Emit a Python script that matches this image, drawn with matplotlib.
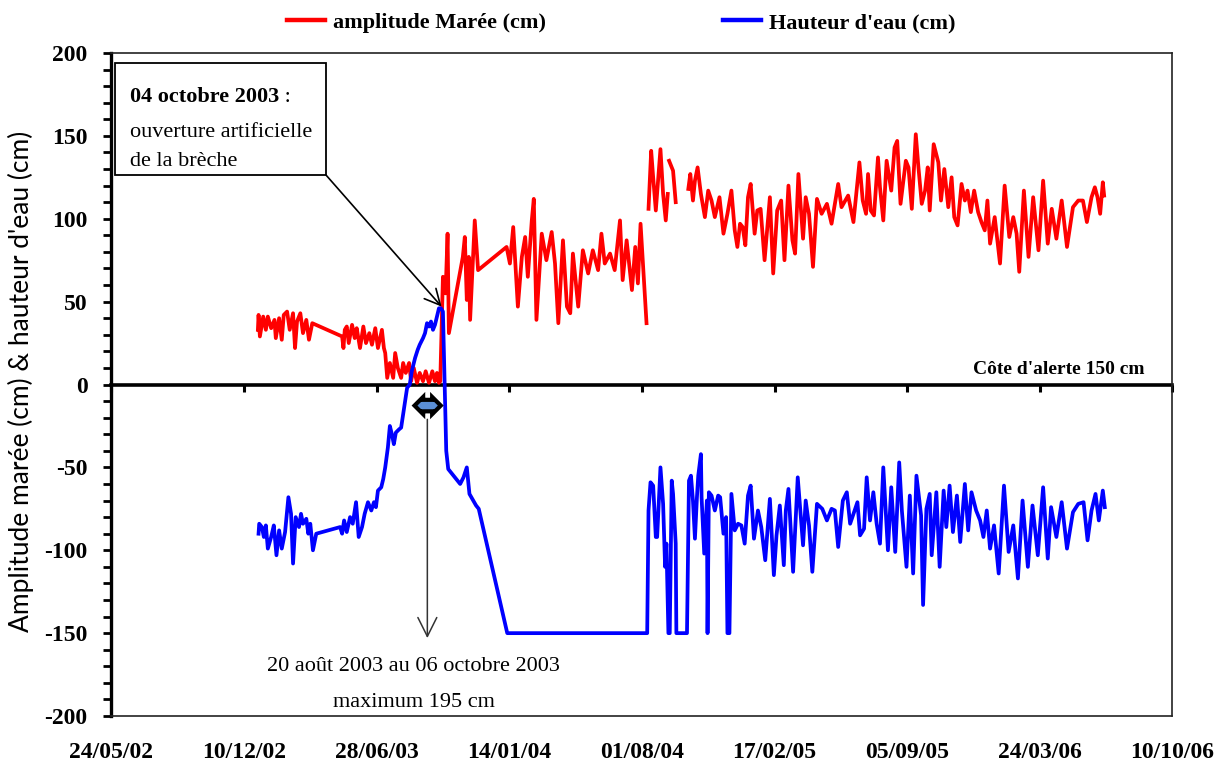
import matplotlib
matplotlib.use('Agg')
import matplotlib.pyplot as plt
import matplotlib.transforms as mtransforms
from matplotlib.patches import Rectangle
from matplotlib.ticker import MultipleLocator
from matplotlib.font_manager import FontProperties
import numpy as np
import pandas as pd

plt.rcParams['font.family'] = ['Liberation Serif', 'DejaVu Serif']

START = pd.Timestamp('2002-05-24')
nan = np.nan

x_tick_labels = ['24/05/02', '10/12/02', '28/06/03', '14/01/04', '01/08/04',
                 '17/02/05', '05/09/05', '24/03/06', '10/10/06']
y_ticks = [-200, -150, -100, -50, 0, 50, 100, 150, 200]

# days since 24/05/2002 (nan value = break in the record)
maree_days = [221, 222, 224, 229, 233, 236, 241, 246, 248, 253, 257, 260, 265, 269, 274, 277, 280, 285, 289, 294, 298, 303,
              348, 350, 352, 355, 358, 363, 367, 370, 375, 380, 384, 389, 393, 398, 402, 408, 411, 413, 416, 420,
              425, 428, 432, 437, 440, 444, 449, 452, 456, 461, 465, 470, 474, 479, 484, 488, 491, 494, 496,
              500, 504, 507, 509, 530, 533, 536, 539, 541, 548, 553, 596, 601, 606, 613, 619, 624, 628, 634, 637,
              641, 649, 656, 664, 669, 674, 681, 687, 692, 696, 704, 711, 719, 726, 734, 739, 744, 752, 759, 767,
              771, 777, 785, 790, 794, 798, 807, 808,
              810, 814, 817, 821, 828, 832, 836, 839, 840, 841, 847, 851, 860,
              870, 873, 877, 880, 884, 889, 895, 900, 905, 910, 917, 923, 929, 935, 940, 944, 948, 952, 956, 960,
              964, 970, 974, 979, 985, 993, 998, 1004, 1010, 1015, 1021, 1027, 1031, 1036, 1043, 1047, 1052, 1058, 1064, 1071,
              1079, 1086, 1096, 1101, 1111, 1119, 1128, 1133, 1138, 1141, 1145, 1150, 1156, 1159, 1164, 1169, 1176, 1181, 1185, 1190,
              1198, 1202, 1207, 1213, 1217, 1222, 1227, 1231, 1234, 1240, 1247, 1251, 1256, 1262, 1267, 1271, 1276, 1282, 1287, 1291,
              1296, 1301, 1307, 1312, 1317, 1321, 1325, 1332, 1340, 1347, 1354, 1360, 1365, 1369, 1376, 1383, 1390, 1398, 1405, 1412,
              1418, 1425, 1433, 1441, 1450, 1458, 1465, 1471, 1478, 1483, 1487, 1491, 1495, 1497]
maree_cm = [33, 42, 29, 41, 33, 41, 34, 39, 28, 40, 27, 42, 44, 33, 43, 22, 38, 43, 31, 39, 27, 37,
            29, 22, 33, 35, 25, 36, 28, 34, 22, 35, 25, 31, 24, 34, 22, 33, 22, 19, 4, 13,
            4, 19, 10, 4, 13, 7, 13, 2, 10, 1, 7, 2, 8, 1, 8, 2, 7, 1, 2,
            65, 55, 91, 31, 77, 89, 51, 77, 39, 99, 69, 83, 73, 95, 47, 77, 89, 65, 99, 112,
            39, 91, 75, 92, 73, 37, 87, 47, 43, 79, 47, 81, 67, 81, 69, 91, 73, 79, 69, 99,
            63, 87, 57, 83, 61, 97, 37, nan,
            106, 141, 125, 105, 142, 115, 99, 115, nan, 135, 129, 110, nan,
            118, 127, 111, 123, 131, 115, 101, 117, 111, 101, 113, 91, 103, 117, 93, 83, 97, 95, 84, 113,
            121, 91, 105, 106, 75, 113, 67, 105, 111, 75, 120, 87, 79, 127, 88, 113, 103, 71, 112, 103,
            109, 97, 121, 107, 114, 98, 134, 111, 103, 127, 105, 102, 137, 119, 99, 135, 117, 143, 147, 109,
            135, 131, 106, 151, 131, 109, 117, 131, 105, 145, 134, 111, 130, 107, 125, 101, 96, 121, 111, 117,
            104, 117, 104, 98, 93, 111, 85, 101, 73, 120, 89, 101, 91, 68, 117, 77, 113, 81, 123, 85,
            106, 88, 111, 83, 107, 111, 111, 98, 113, 119, 113, 103, 122, 114]

eau_days = [222, 223, 227, 230, 233, 236, 241, 245, 249, 253, 257, 262, 267, 271, 274, 278, 283, 286, 289, 294,
            297, 300, 304, 309, 345, 348, 351, 355, 360, 364, 369, 373, 378, 382, 387, 392, 396, 399, 402, 407,
            410, 413, 417, 420, 423, 426, 429, 434, 437, 440, 443, 446, 450, 453, 458, 462, 465, 470, 473, 476,
            479, 482, 485, 488, 491, 494, 497, 500, 505, 508, 526, 531, 536, 540, 550, 554, 597, 808,
            810, 813, 817, 821, 823, 828, 832, 835, 837, 840, 842, 845, 847, 851, 852, 868, 871, 874, 877, 880,
            883, 885, 889, 890, 894, 898, 899, 901, 905, 910, 915, 918, 923, 927, 929, 932, 935, 940, 945, 950,
            955, 960, 964, 969, 975, 980, 986, 993, 999, 1003, 1008, 1014, 1017, 1021, 1028, 1035, 1043, 1047, 1052, 1057,
            1064, 1072, 1079, 1086, 1091, 1096, 1103, 1109, 1114, 1119, 1125, 1129, 1135, 1139, 1144, 1149, 1154, 1159, 1164, 1171,
            1176, 1182, 1188, 1192, 1199, 1204, 1209, 1214, 1221, 1224, 1229, 1234, 1237, 1244, 1249, 1255, 1259, 1264, 1269, 1275,
            1280, 1287, 1292, 1297, 1304, 1310, 1315, 1320, 1325, 1331, 1338, 1346, 1353, 1360, 1367, 1374, 1382, 1389, 1397, 1405,
            1412, 1417, 1425, 1433, 1441, 1450, 1458, 1466, 1472, 1478, 1484, 1489, 1495, 1498]
eau_cm = [-90, -84, -86, -92, -85, -99, -92, -85, -103, -88, -99, -89, -68, -78, -108, -80, -86, -78, -84, -81,
          -90, -84, -100, -90, -86, -90, -82, -89, -80, -84, -71, -92, -86, -78, -71, -76, -71, -74, -64, -62,
          -57, -50, -38, -25, -30, -36, -29, -27, -26, -18, -10, -2, 0, 8, 16, 21, 24, 28, 31, 37,
          35, 38, 33, 36, 41, 46, 46, 44, -40, -51, -60, -56, -50, -66, -73, -75, -150, -150,
          -76, -59, -61, -92, -92, -50, -72, -110, -96, -150, -150, -58, -66, -96, -150, -150, -58, -55, -70, -93,
          -68, -55, -42, -68, -102, -70, -150, -65, -67, -76, -67, -68, -90, -80, -150, -150, -66, -88, -84, -85,
          -96, -67, -61, -93, -76, -86, -106, -69, -115, -91, -73, -109, -76, -63, -113, -56, -97, -70, -85, -113,
          -72, -75, -82, -75, -76, -98, -70, -65, -84, -78, -71, -91, -87, -56, -82, -65, -84, -96, -50, -100,
          -62, -101, -47, -76, -110, -67, -114, -55, -79, -133, -75, -66, -103, -65, -110, -64, -86, -61, -89, -67,
          -95, -60, -88, -65, -76, -82, -92, -76, -99, -85, -114, -61, -101, -85, -117, -70, -110, -73, -103, -62,
          -105, -74, -92, -71, -99, -77, -72, -71, -94, -76, -66, -82, -64, -74]


def to_dates(days):
    return START + pd.to_timedelta(days, unit='D')


tick_dates = pd.to_datetime(x_tick_labels, format='%d/%m/%y')
breche_open = pd.Timestamp('2003-10-04')
period_start = pd.Timestamp('2003-08-20')
period_end = pd.Timestamp('2003-10-06')
period_mid = period_start + (period_end - period_start) / 2

fig = plt.figure(figsize=(12.18, 7.64), dpi=100)
ax = fig.add_axes([0.0914, 0.0628, 0.8712, 0.8678])

l1, = ax.plot(to_dates(maree_days), maree_cm, color='#FF0000', lw=2.7, solid_joinstyle='round', zorder=3)
l2, = ax.plot(to_dates(eau_days), eau_cm, color='#0000FF', lw=2.7, solid_joinstyle='round', zorder=3)

ax.set_xlim(tick_dates[0], tick_dates[-1])
ax.set_ylim(-200, 200)

# axes style
for s in ['top', 'right', 'bottom']:
    ax.spines[s].set_linewidth(1.2)
    ax.spines[s].set_color('#222222')
ax.spines['left'].set_linewidth(2.4)

bold = FontProperties(family='Liberation Serif', weight='bold', size=17)
ax.set_yticks(y_ticks)
ax.set_yticklabels([str(v) for v in y_ticks], fontproperties=bold)
ax.yaxis.set_minor_locator(MultipleLocator(10))
ax.tick_params(axis='y', which='both', direction='out', length=6, width=2, pad=11)

ax.set_xticks(tick_dates)
ax.set_xticklabels(x_tick_labels, fontproperties=bold)
ax.tick_params(axis='x', length=0, pad=19)

# zero line with its own ticks
zero = ax.secondary_xaxis(0, transform=ax.transData)
zero.spines['bottom'].set_linewidth(2.6)
zero.set_xticks(tick_dates)
zero.set_xticklabels([])
zero.tick_params(axis='x', direction='out', length=5, width=2.2)

fig.text(0.017, 0.501, "Amplitude marée (cm) & hauteur d'eau (cm)", rotation=90,
         ha='center', va='center', fontsize=19, family=['Lato', 'DejaVu Sans'])

# legend
leg = fig.legend([l1, l2], ['amplitude Marée (cm)', "Hauteur d'eau (cm)"], loc='center',
                 bbox_to_anchor=(0.510, 0.970), ncol=2, frameon=False,
                 prop=FontProperties(family='Liberation Serif', weight='bold', size=16),
                 handlelength=1.7, handletextpad=0.35, columnspacing=8.0)
for lh in leg.get_lines():
    lh.set_linewidth(3.2)

# annotation box (top left)
ax.add_patch(Rectangle((0.0035, 0.816), 0.1988, 0.169, transform=ax.transAxes,
                       facecolor='white', edgecolor='black', lw=1.3, zorder=4))
t1 = ax.text(0.0176, 0.9265, '04 octobre 2003', transform=ax.transAxes, fontsize=16,
             fontweight='bold', va='baseline', zorder=5)
ax.annotate(' :', xy=(1, 0), xycoords=t1, va='bottom', fontsize=16, zorder=5)
ax.text(0.0176, 0.8738, 'ouverture artificielle', transform=ax.transAxes, fontsize=16,
        va='baseline', zorder=5)
ax.text(0.0176, 0.830, 'de la brèche', transform=ax.transAxes, fontsize=16,
        va='baseline', zorder=5)
ax.annotate('', xy=(breche_open, 47), xycoords='data', xytext=(0.2023, 0.816),
            textcoords='axes fraction',
            arrowprops=dict(arrowstyle='->', color='black', lw=1.2, mutation_scale=28,
                            shrinkA=0, shrinkB=0), zorder=5)

# period double arrow and down arrow
ax.text(period_mid, -12.7, 'xxx', fontsize=6.3, color=(0, 0, 0, 0), ha='center', va='center', zorder=6,
        bbox=dict(boxstyle='darrow,pad=0.2', fc='#5B8FD6', ec='black', lw=3))
ax.annotate('', xy=(period_mid, -153), xytext=(period_mid, -21),
            arrowprops=dict(arrowstyle='->', color='#333333', lw=1.1, mutation_scale=34,
                            shrinkA=0, shrinkB=0), zorder=5)
text_x = START + pd.Timedelta(days=456)
ax.text(text_x, -172.7, '20 août 2003 au 06 octobre 2003', ha='center', va='baseline', fontsize=16)
ax.text(text_x, -194.4, 'maximum 195 cm', ha='center', va='baseline', fontsize=16)

# alert level label
trans = mtransforms.blended_transform_factory(ax.transAxes, ax.transData)
ax.text(0.974, 6.6, "Côte d'alerte 150 cm", transform=trans, ha='right', va='baseline',
        fontsize=14, fontweight='bold')

fig.savefig('out.png', dpi=100)
